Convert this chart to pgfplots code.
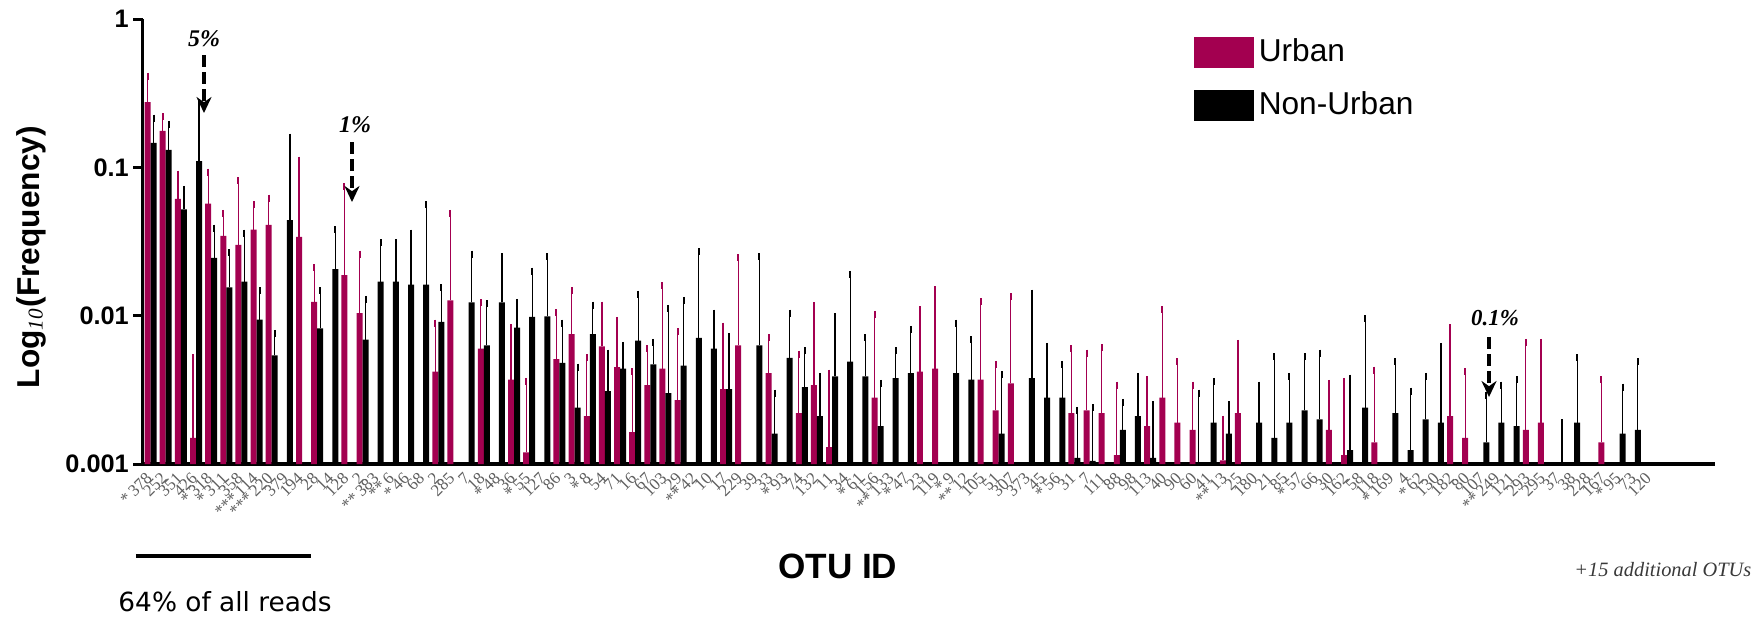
\documentclass[border=0pt]{standalone}
\usepackage{pgfplots}
\pgfplotsset{compat=1.18}
\usepackage{pgfplotstable}
\usepackage{fontspec}
\setmainfont{Liberation Serif}
\setsansfont{Liberation Sans}
\newfontfamily\comicfont{DejaVu Sans}
\usetikzlibrary{arrows.meta}
\definecolor{urban}{RGB}{163,0,80}
\definecolor{ticklab}{RGB}{95,95,95}

\pgfplotstableread{
x y t
1 0.275 0.41
2 0.176 0.22
3 0.0612 0.09
4 0.0015 0.0052
5 0.057 0.093
6 0.0345 0.049
7 0.030 0.081
8 0.038 0.056
9 0.041 0.062
11 0.034 0.112
12 0.0124 0.021
14 0.0188 0.074
15 0.0104 0.026
20 0.0042 0.0089
21 0.0127 0.049
23 0.006 0.0122
25 0.0037 0.0083
26 0.0012 0.0036
28 0.0051 0.0105
29 0.0075 0.0147
30 0.0021 0.0052
31 0.0062 0.0118
32 0.0045 0.0093
33 0.00164 0.0042
34 0.0034 0.006
35 0.0044 0.0159
36 0.0027 0.0078
39 0.0032 0.0085
40 0.0063 0.0245
42 0.0041 0.0071
44 0.0022 0.0055
45 0.0034 0.0117
46 0.0013 0.0041
49 0.0028 0.0102
52 0.0042 0.011
53 0.0044 0.0149
56 0.0037 0.0124
57 0.0023 0.0047
58 0.0035 0.0134
62 0.0022 0.006
63 0.0023 0.0056
64 0.0022 0.0061
65 0.00115 0.0034
67 0.0018 0.0037
68 0.0028 0.011
69 0.0019 0.0049
70 0.0017 0.0034
72 0.00106 0.002
73 0.0022 0.0065
79 0.0017 0.0035
80 0.00115 0.0036
82 0.0014 0.0043
87 0.0021 0.0083
88 0.0015 0.0042
92 0.0017 0.0066
93 0.0019 0.0066
97 0.0014 0.0037
}\urbandata

\pgfplotstableread{
x y t
1 0.146 0.215
2 0.131 0.195
3 0.052 0.071
4 0.11 0.27
5 0.0245 0.039
6 0.0155 0.0265
7 0.017 0.036
8 0.0094 0.0147
9 0.0054 0.0076
10 0.044 0.16
12 0.0082 0.0147
13 0.0206 0.038
15 0.0069 0.0129
16 0.017 0.031
17 0.017 0.031
18 0.0162 0.036
19 0.0162 0.056
20 0.0091 0.0154
22 0.0123 0.026
23 0.0063 0.012
24 0.0123 0.025
25 0.0083 0.0123
26 0.0098 0.02
27 0.0099 0.025
28 0.0048 0.0089
29 0.0024 0.0045
30 0.0075 0.0118
31 0.0031 0.0056
32 0.0044 0.0063
33 0.0068 0.014
34 0.0047 0.0066
35 0.003 0.0112
36 0.0046 0.0127
37 0.0071 0.027
38 0.006 0.0104
39 0.0032 0.0072
41 0.0063 0.025
42 0.0016 0.003
43 0.0052 0.0104
44 0.0033 0.0058
45 0.0021 0.0039
46 0.0039 0.0098
47 0.0049 0.019
48 0.0039 0.0071
49 0.0018 0.0035
50 0.0038 0.0058
51 0.0041 0.0081
54 0.0041 0.0089
55 0.0037 0.0069
57 0.0016 0.004
59 0.0038 0.0142
60 0.0028 0.0062
61 0.0028 0.0047
62 0.0011 0.0023
63 0.00105 0.0024
65 0.0017 0.0026
66 0.0021 0.0039
67 0.0011 0.0025
70 0.00103 0.003
71 0.0019 0.0036
72 0.0016 0.0025
74 0.0019 0.0034
75 0.0015 0.0053
76 0.0019 0.0039
77 0.0023 0.0053
78 0.002 0.0056
80 0.00124 0.0038
81 0.0024 0.0095
83 0.0022 0.0049
84 0.00124 0.0031
85 0.002 0.0039
86 0.0019 0.0062
89 0.0014 0.0029
90 0.0019 0.0034
91 0.0018 0.0037
94 0.00103 0.0019
95 0.0019 0.0052
98 0.0016 0.0033
99 0.0017 0.0049
}\nonurbandata

\begin{document}
\begin{tikzpicture}
\begin{axis}[
  at={(0,0)}, anchor=south west,
  scale only axis, width=157.2mm, height=44.5mm,
  ymode=log, log origin=infty, ymin=0.001, ymax=1,
  xmin=0.5, xmax=104.3,
  axis lines=left,
  x axis line style={-, line width=0.45mm},
  y axis line style={-, line width=0.3mm},
  ytick={0.001,0.01,0.1,1}, yticklabels={0.001,0.01,0.1,1},
  yminorticks=false,
  yticklabel style={font=\sffamily\bfseries\fontsize{7.2}{8}\selectfont, inner sep=1pt},
  ytick style={line width=0.3mm, black},
  tick align=outside, major tick length=1mm,
  xtick={1,...,100},
  xticklabels={{*\,378},252,351,426,{*\,318},{*\,311},358,{***\,114},{***\,220},379,
    194,28,14,128,2,{**\,383},{**\,6},{*\,46},68,2,
    285,7,18,{*\,48},36,{*\,55},127,86,3,{*\,8},
    54,71,16,67,103,29,{**\,42},10,17,229,
    39,33,{*\,93},74,132,11,34,{*\,61},156,{**\,133},
    {*\,47},23,119,{*\,9},{**\,12},105,51,307,373,45,
    {*\,56},31,7,111,88,98,113,40,90,60,
    41,{**\,13},25,180,21,85,{*\,57},66,30,162,
    58,118,{*\,169},4,{*\,62},130,182,80,107,{**\,249},
    121,293,295,37,38,228,167,{*\,95},73,120},
  xtick style={draw=none},
  xticklabel style={rotate=45, anchor=east, font=\fontsize{4.8}{5.5}\selectfont, text=ticklab, inner sep=0.5pt},
  xlabel={OTU ID},
  xlabel style={at={(axis description cs:0.442,-0.231)}, anchor=center, font=\sffamily\bfseries\fontsize{10}{12}\selectfont},
  ylabel={Log$_{\mathit{10}}$(Frequency)},
  ylabel style={at={(axis description cs:-0.0712,0.465)}, anchor=center, font=\sffamily\bfseries\fontsize{9}{11}\selectfont},
  ybar, bar width=0.6mm,
  legend image code/.code={\fill[#1] (0mm,-1.55mm) rectangle (6mm,1.55mm);},
  legend style={at={(rel axis cs:0.668,0.963)}, anchor=north west, draw=none, fill=none,
    inner sep=0pt, row sep=2.1mm, nodes={inner sep=0.2mm},
    /tikz/every odd column/.append style={column sep=0.3mm},
    font=\sffamily\fontsize{9}{10}\selectfont},
  legend cell align=left,
]
\addplot[forget plot, fill=urban, draw=none, bar shift=-0.3mm,
  error bars/.cd, y dir=plus, y explicit,
  error bar style={urban, line width=0.13mm},
  error mark options={urban, mark size=0.35mm, line width=0.2mm}]
  table[x=x, y=y, y error expr=\thisrow{t}-\thisrow{y}] {\urbandata};
\addplot[forget plot, fill=black, draw=none, bar shift=0.3mm,
  error bars/.cd, y dir=plus, y explicit,
  error bar style={black, line width=0.13mm},
  error mark options={black, mark size=0.35mm, line width=0.2mm}]
  table[x=x, y=y, y error expr=\thisrow{t}-\thisrow{y}] {\nonurbandata};
\addlegendimage{fill=urban, draw=none}
\addlegendentry{Urban}
\addlegendimage{fill=black, draw=none}
\addlegendentry{Non-Urban}
\end{axis}
% annotations
\node[font=\bfseries\itshape\fontsize{6.8}{8}\selectfont] at (6.1mm,42.5mm) {5\%};
\draw[line width=0.35mm, dash pattern=on 1.2mm off 0.5mm, -{Stealth[length=1.6mm,width=1.5mm]}] (6.1mm,40.9mm) -- (6.1mm,35.1mm);
\node[font=\bfseries\itshape\fontsize{6.8}{8}\selectfont] at (21.2mm,33.9mm) {1\%};
\draw[line width=0.35mm, dash pattern=on 1.2mm off 0.5mm, -{Stealth[length=1.6mm,width=1.5mm]}] (20.9mm,32.2mm) -- (20.9mm,26.2mm);
\node[font=\bfseries\itshape\fontsize{6.5}{8}\selectfont] at (135.2mm,14.6mm) {0.1\%};
\draw[line width=0.35mm, dash pattern=on 1.2mm off 0.5mm, -{Stealth[length=1.6mm,width=1.5mm]}] (134.6mm,12.7mm) -- (134.6mm,6.7mm);
\draw[line width=0.45mm] (-0.7mm,-9.2mm) -- (16.8mm,-9.2mm);
\node[font=\comicfont\fontsize{7.5}{9}\selectfont] at (8.2mm,-13.8mm) {64\% of all reads};
\node[anchor=east, inner sep=0pt, font=\itshape\fontsize{5.8}{7}\selectfont, text=ticklab!60!black] at (160.9mm,-10.6mm) {+15 additional OTUs};
\pgfresetboundingbox
\path[use as bounding box] (-14.3mm,-15.3mm) rectangle (161.0mm,46.4mm);
\end{tikzpicture}
\end{document}
